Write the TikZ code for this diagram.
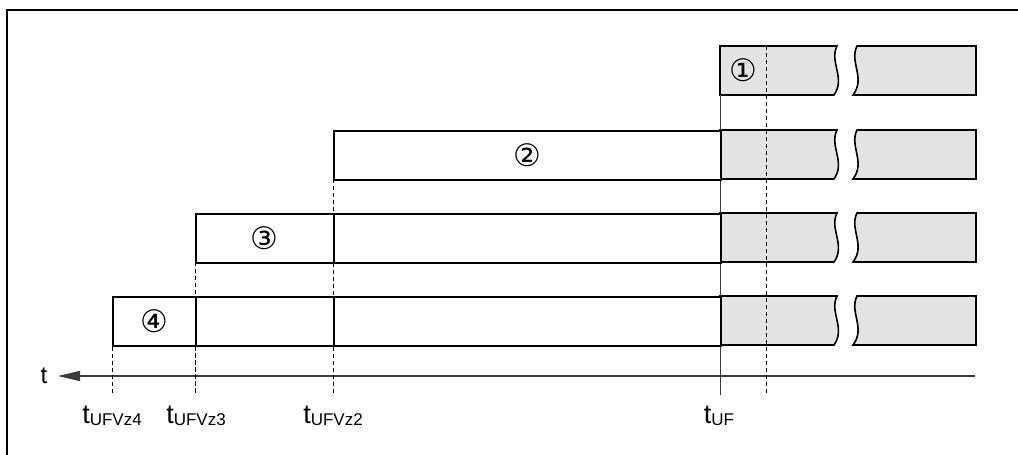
\documentclass[tikz,border=0pt]{standalone}
\usepackage{fontspec}
\setmainfont{Liberation Sans}
\newfontfamily\circfont{DejaVu Sans}
\usetikzlibrary{arrows.meta}
\definecolor{bargrey}{RGB}{227,227,227}
\definecolor{axisgrey}{RGB}{60,60,60}
\tikzset{
  wbox/.style={draw,line width=1.6pt,fill=white,anchor=north west,minimum height=49pt,inner sep=0pt,font=\circfont\fontsize{31}{34}\selectfont},
  gbar/.style={draw,line width=1.6pt,fill=bargrey},
  dashtick/.style={dash pattern=on 4pt off 3pt,line width=0.8pt},
  tlabel/.style={font=\fontsize{27}{30}\selectfont,inner sep=0pt}
}
\newcommand{\tsub}[1]{t\raisebox{-0.1em}{\fontsize{17}{19}\selectfont #1}}
\begin{document}
\begin{tikzpicture}[x=1pt,y=-1pt]
\useasboundingbox (0,0) rectangle (1018,455);
\draw[line width=2.2pt] (7,455) -- (7,10) -- (1018,10);
\coordinate (s4) at (112,395);
\coordinate (s3) at (195,395);
\coordinate (s2) at (333,395);
\coordinate (s1) at (720,395);
\coordinate (s0) at (766,395);
\coordinate (top0) at (766,46);
\coordinate (axR) at (975,376);
\coordinate (axL) at (58,376);
\draw[axisgrey,line width=1.2pt,-{Triangle[length=22pt,width=10pt]}] (axR) -- (axL);
\node[font=\fontsize{24}{27}\selectfont,inner sep=0pt] (tax) at (44,376) {t};
\foreach \ytop in {46,130,213,296}{
\draw[gbar] (720,\ytop) -- (837,\ytop) .. controls (829,\ytop+16) and (846,\ytop+32) .. (834,\ytop+49) -- (720,\ytop+49) -- cycle;
\draw[gbar] (857,\ytop) .. controls (849,\ytop+16) and (866,\ytop+32) .. (853,\ytop+49) -- (976,\ytop+49) -- (976,\ytop) -- cycle;
}
\draw[axisgrey,line width=0.8pt] (720,95) -- (s1);
\draw[dashtick] (top0) -- (s0);
\draw[dashtick] (333,179) -- (s2);
\draw[dashtick] (195,262) -- (s3);
\node[wbox,minimum width=387pt] (b2) at (333,130) {②};
\node[wbox,minimum width=138pt] (b3) at (195,213) {③};
\node[wbox,minimum width=387pt] (b3r) at (333,213) {};
\node[wbox,minimum width=83pt] (b4) at (112,296) {④};
\node[wbox,minimum width=138pt] (b4m) at (195,296) {};
\node[wbox,minimum width=387pt] (b4r) at (333,296) {};
\draw[dashtick] (b4.south west) -- (s4);
\draw[dashtick] (b4m.south west) -- (s3);
\draw[dashtick] (b4r.south west) -- (s2);
\node[font=\circfont\fontsize{31}{34}\selectfont,inner sep=0pt] (n1) at (743,70) {①};
\node[tlabel] (l4) at (112,416) {\tsub{UFVz4}};
\node[tlabel] (l3) at (196,416) {\tsub{UFVz3}};
\node[tlabel] (l2) at (333,416) {\tsub{UFVz2}};
\node[tlabel] (l1) at (719,416) {\tsub{UF}};
\end{tikzpicture}
\end{document}
